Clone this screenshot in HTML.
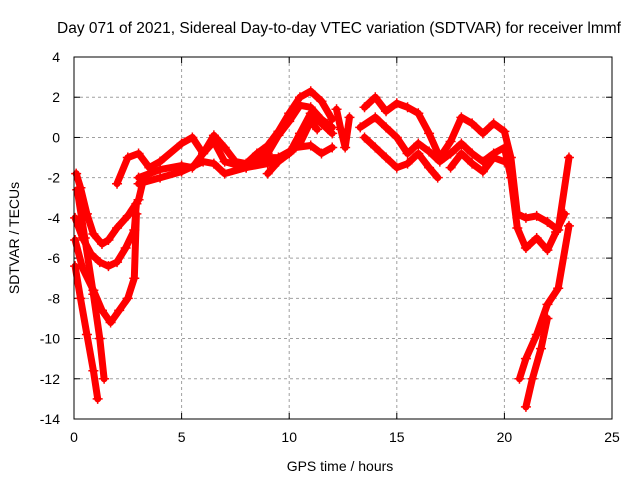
<!DOCTYPE html>
<html><head><meta charset="utf-8"><style>
body{margin:0;background:#fff}
svg{display:block;font-family:"Liberation Sans",sans-serif}
</style></head><body>
<svg id="chart" width="640" height="480">
<text x="339" y="33" text-anchor="middle" font-size="15.5">Day 071 of 2021, Sidereal Day-to-day VTEC variation (SDTVAR) for receiver lmmf</text>
<text x="340" y="471" text-anchor="middle" font-size="14">GPS time / hours</text>
<text transform="translate(19,238) rotate(-90)" text-anchor="middle" font-size="14">SDTVAR / TECUs</text>
<g id="grid"></g><g id="ticks"></g><g id="series"></g>
<rect x="74" y="57" width="538" height="362" fill="none" stroke="#000" stroke-width="1"/>
</svg>
<script>
const xTicks=[0,5,10,15,20,25];
const yTicks=[4,2,0,-2,-4,-6,-8,-10,-12,-14];
const s1T=[0.1,0.3,0.6,0.9,1.3,1.6,2,2.5,3,3.2];
const s1V=[-1.8,-2.5,-3.8,-4.8,-5.3,-5.1,-4.5,-3.9,-3.1,-2.2];
const s2T=[0.05,0.4,0.8,1.2,1.6,2,2.4,2.8,2.9];
const s2V=[-4,-5,-5.8,-6.2,-6.4,-6.2,-5.5,-4.6,-3.3];
const s3T=[0.05,0.4,0.9,1.3,1.7,2.1,2.5,2.8,2.9];
const s3V=[-5.1,-6.5,-7.6,-8.6,-9.2,-8.6,-8.0,-7.0,-3.8];
const s4T=[0.05,0.3,0.6,0.9,1.1];
const s4V=[-6.4,-8,-9.8,-11.6,-13];
const s5T=[0.15,0.5,0.9,1.2,1.4];
const s5V=[-2.6,-5,-7.8,-10,-12];
const b1T=[2,2.5,3,3.5,4,5,5.5,6,6.5,7,7.5,8,8.5,9,9.5,10,10.5,11,11.5,12];
const b1V=[-2.3,-1,-0.8,-1.5,-1.2,-0.3,0,-0.8,0.1,-0.5,-1.2,-1.3,-0.8,-0.4,0.3,1.2,2,2.3,1.8,0.9];
const b2T=[3,4,5,5.5,6,6.5,7,8,9,9.5,10,10.5,11,11.5,12];
const b2V=[-2,-1.6,-1.4,-1.5,-0.8,-0.2,-1.2,-1.5,-0.8,0.1,0.8,1.6,1.5,0.9,0.5];
const b3T=[3,4,5,6,6.5,7,8,9,10,10.5,11,11.5,12];
const b3V=[-2.3,-2,-1.7,-1.2,-1.3,-1.8,-1.5,-1.3,-0.8,0.2,1.2,0.7,0.2];
const b4T=[8.5,9,9.5,10,10.5,11,11.3];
const b4V=[-1.2,-1,-1,-0.7,-0.3,0.8,0.4];
const b5T=[9,9.5,10,10.3,11,11.5,12];
const b5V=[-1.8,-1.2,-0.8,-0.5,-0.4,-0.8,-0.5];
const c1T=[12.2,12.4,12.6,12.8];
const c1V=[1.4,0.4,-0.5,1];
const r1T=[13.5,14,14.5,15,15.5,16,16.5,17,17.5,18,18.5,19,19.5,20,20.3,20.6,21,21.5,22,22.5,23];
const r1V=[1.5,2,1.3,1.7,1.5,1.2,0.2,-1,-0.2,1,0.7,0.2,0.7,0.3,-1,-3.8,-4,-3.9,-4.2,-4.6,-1];
const r2T=[13.3,14,14.5,15,15.5,16,16.5,17,17.5,18,18.5,19,19.5,20,20.3,20.6,21,21.5,22,22.4,22.8];
const r2V=[0.5,1,0.5,0,-0.8,-0.3,-0.7,-1.2,-0.8,-0.3,-0.8,-1.2,-0.8,-0.5,-2,-4.5,-5.5,-5,-5.6,-4.7,-3.8];
const r3T=[13.5,14,14.5,15,15.5,16,16.5,16.9];
const r3V=[0,-0.5,-1,-1.5,-1.3,-0.8,-1.5,-2];
const r4T=[17.5,18,18.5,19,19.5,20];
const r4V=[-1.5,-0.8,-1.3,-1.7,-1.0,-1.2];
const r5T=[20.7,21,21.5,22,22.5,23];
const r5V=[-12,-11,-9.8,-8.3,-7.5,-4.4];
const r6T=[21,21.3,21.7,22];
const r6V=[-13.4,-12,-10.5,-9];
const allSeries=[[s1T,s1V],[s2T,s2V],[s3T,s3V],[s4T,s4V],[s5T,s5V],[b1T,b1V],[b2T,b2V],[b3T,b3V],[b4T,b4V],[b5T,b5V],[c1T,c1V],[r1T,r1V],[r2T,r2V],[r3T,r3V],[r4T,r4V],[r5T,r5V],[r6T,r6V]];
const X0=74,X1=612,Y0=57,Y1=419;
function xs(t){return X0+(t-0)/(25-0)*(X1-X0);}
function ys(v){return Y0+(4-v)/(4-(-14))*(Y1-Y0);}
const NS='http://www.w3.org/2000/svg';
function mk(tag,attrs,parent){const e=document.createElementNS(NS,tag);for(const k in attrs)e.setAttribute(k,attrs[k]);parent.appendChild(e);return e;}
const grid=document.getElementById('grid'),ticks=document.getElementById('ticks'),ser=document.getElementById('series');
xTicks.forEach(t=>{const x=xs(t);
 if(t>0&&t<25){const g=mk('line',{x1:x,x2:x,y1:Y0,y2:Y1,stroke:'#a0a0a0','stroke-dasharray':'3,3'},grid);
 
 }
 mk('line',{x1:x,x2:x,y1:Y1,y2:Y1-6,stroke:'#000'},ticks);
 mk('line',{x1:x,x2:x,y1:Y0,y2:Y0+6,stroke:'#000'},ticks);
 const l=mk('text',{x:x,y:442,'text-anchor':'middle','font-size':'14'},ticks);l.textContent=t;
 
 });
yTicks.forEach(v=>{const y=ys(v);
 if(v<4&&v>-14){const g=mk('line',{x1:X0,x2:X1,y1:y,y2:y,stroke:'#a0a0a0','stroke-dasharray':'3,3'},grid);
 
 }
 mk('line',{x1:X0,x2:X0+6,y1:y,y2:y,stroke:'#000'},ticks);
 mk('line',{x1:X1,x2:X1-6,y1:y,y2:y,stroke:'#000'},ticks);
 const l=mk('text',{x:60,y:y+5,'text-anchor':'end','font-size':'14'},ticks);l.textContent=v;
 
 });
allSeries.forEach((s,i)=>{const T=s[0],V=s[1];
 const pts=T.map((t,j)=>xs(t).toFixed(1)+','+ys(V[j]).toFixed(1)).join(' ');
 const p=mk('polyline',{points:pts,fill:'none',stroke:'#ff0000','stroke-width':'7','stroke-linejoin':'round','stroke-linecap':'round'},ser);
 
 
 T.forEach((t,j)=>{const x=xs(t),y=ys(V[j]);
  const m=mk('path',{d:`M${x-5},${y}h10M${x},${y-5}v10`,stroke:'#ff0000','stroke-width':'1.5'},ser);
  
  });
});
</script>
</body></html>
